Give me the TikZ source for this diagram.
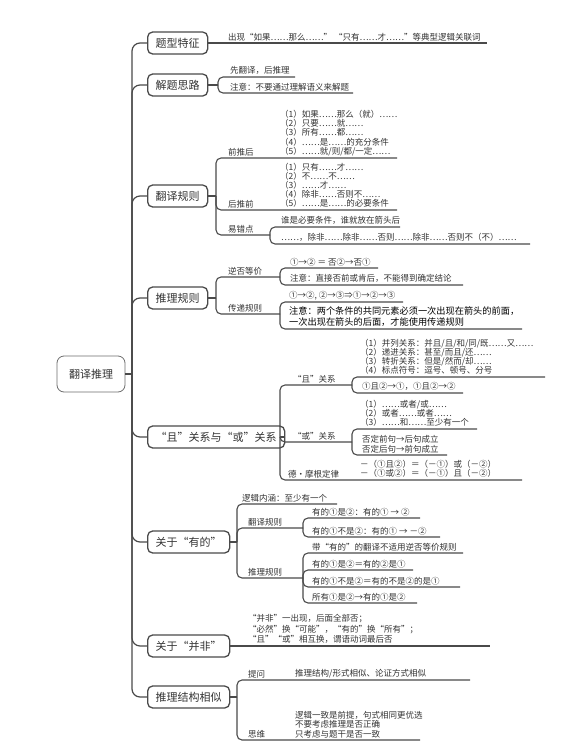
\documentclass[tikz,border=0pt]{standalone}
\usepackage{fontspec}
\setmainfont{Noto Sans CJK SC}
\definecolor{lc}{HTML}{4A4A4A}
\definecolor{tc}{HTML}{333333}
\tikzset{
  ln/.style={draw=lc, line width=1.1pt, rounded corners=5pt},
  trunkln/.style={draw=lc, line width=1.2pt, rounded corners=8pt},
  rootbox/.style={draw=lc!80, line width=0.8pt, rounded corners=7pt, fill=white,
    minimum width=68pt, minimum height=36pt, font=\fontsize{11}{12}\selectfont, text=tc},
  topbox/.style={draw=lc, line width=1.3pt, rounded corners=5pt, fill=white,
    minimum height=22pt, inner xsep=8pt, font=\fontsize{11}{12}\selectfont, text=tc, anchor=west},
  lbl/.style={font=\fontsize{8.5}{9}\selectfont, text=tc, inner sep=0pt, anchor=south west},
  leaf/.style={font=\fontsize{8.5}{9.2}\selectfont, text=tc, inner sep=0pt, anchor=south west, align=left},
  note/.style={font=\fontsize{9.2}{11}\selectfont, text=black, inner sep=0pt, anchor=south west, align=left},
}
\begin{document}
\begin{tikzpicture}[x=1pt,y=-1pt]
\useasboundingbox[fill=white] (0,0) rectangle (578,745);

% root and level-1 boxes
\node[rootbox] (root) at (91,374) {翻译推理};
\coordinate (tr) at (132,374);
\node[topbox] (b1) at (147,43) {题型特征};
\node[topbox] (b2) at (147,85) {解题思路};
\node[topbox] (b3) at (147,196) {翻译规则};
\node[topbox] (b4) at (147,298) {推理规则};
\node[topbox] (b5) at (147,437) {“且”关系与“或”关系};
\node[topbox] (b6) at (147,542) {关于“有的”};
\node[topbox] (b7) at (147,646) {关于“并非”};
\node[topbox] (b8) at (147,697) {推理结构相似};

% trunk
\draw[ln] (root.east) -- (tr);
\foreach \n in {b1,b2,b3,b4,b5,b6,b7,b8} \draw[trunkln] (tr) |- (\n.west);

% 1 题型特征
\draw[ln] (b1.east) -- (487,43);
\node[leaf] (t11) at (228,41) {出现“如果……那么……” “只有……才……”等典型逻辑关联词};

% 2 解题思路
\coordinate (p2) at (218,85);
\draw[ln] (b2.east) -- (p2);
\draw[ln] (p2) |- (295,77);
\draw[ln] (p2) |- (353,93);
\node[leaf] (t21) at (230,75) {先翻译，后推理};
\node[leaf] (t22) at (230,91) {注意：不要通过理解语义来解题};

% 3 翻译规则
\coordinate (p3) at (216,196);
\coordinate (p33) at (270,235);
\draw[ln] (b3.east) -- (p3);
\draw[ln] (p3) |- (397,158);
\draw[ln] (p3) |- (397,210);
\draw[ln] (p3) |- (p33);
\draw[ln] (p33) |- (400,227);
\draw[ln] (p33) |- (530,244);
\node[lbl] (l31) at (228,156) {前推后};
\node[lbl] (l32) at (228,208) {后推前};
\node[lbl] (l33) at (228,233) {易错点};
\node[leaf] (t31) at (280,156) {（1）如果……那么（就）……\\（2）只要……就……\\（3）所有……都……\\（4）……是……的充分条件\\（5）……就/则/都/一定……};
\node[leaf] (t32) at (280,208) {（1）只有……才……\\（2）不……不……\\（3）……才……\\（4）除非……否则不……\\（5）……是……的必要条件};
\node[leaf] (t33) at (281,225) {谁是必要条件，谁就放在箭头后};
\node[leaf] (t34) at (281,242) {……，除非……除非……否则……除非……否则不（不）……};

% 4 推理规则
\coordinate (p4) at (216,298);
\coordinate (p41) at (280,277);
\coordinate (p42) at (280,314);
\draw[ln] (b4.east) -- (p4);
\draw[ln] (p4) |- (p41);
\draw[ln] (p4) |- (p42);
\draw[ln] (p41) |- (378,268);
\draw[ln] (p41) |- (463,285);
\draw[ln] (p42) |- (403,302);
\draw[ln] (p42) |- (522,329);
\node[lbl] (l41) at (228,275) {逆否等价};
\node[lbl] (l42) at (228,312) {传递规则};
\node[leaf] (t41) at (290,266) {①→② ＝ 否②→否①};
\node[leaf] (t42) at (290,283) {注意：直接否前或肯后，不能得到确定结论};
\node[leaf] (t43) at (289,300) {①→②, ②→③⇒①→②→③};
\node[note] (t44) at (289,327) {注意：两个条件的共同元素必须一次出现在箭头的前面，\\一次出现在箭头的后面，才能使用传递规则};

% 5 且/或
\coordinate (p5) at (280,437);
\coordinate (p51) at (352,385);
\coordinate (p52) at (352,442);
\draw[ln] (b5.east) -- (p5);
\draw[ln] (p5) |- (p51);
\draw[ln] (p5) |- (p52);
\draw[ln] (p5) |- (522,480);
\draw[ln] (p51) |- (545,377);
\draw[ln] (p51) |- (463,393);
\draw[ln] (p52) |- (477,429);
\draw[ln] (p52) |- (447,455);
\node[lbl] (l51) at (293,383) {“且”关系};
\node[lbl] (l52) at (293,440) {“或”关系};
\node[lbl] (l53) at (288,478) {德·摩根定律};
\node[leaf] (t51) at (360,375) {（1）并列关系：并且/且/和/同/既……又……\\（2）递进关系：甚至/而且/还……\\（3）转折关系：但是/然而/却……\\（4）标点符号：逗号、顿号、分号};
\node[leaf] (t52) at (362,391) {①且②→①，①且②→②};
\node[leaf] (t53) at (360,427) {（1）……或者/或……\\（2）或者……或者……\\（3）……和……至少有一个};
\node[leaf] (t54) at (362,453) {否定前句→后句成立\\否定后句→前句成立};
\node[leaf] (t55) at (360,478) {－（①且②）＝（－①）或（－②）\\－（①或②）＝（－①）且（－②）};

% 6 关于“有的”
\coordinate (p6) at (237,542);
\coordinate (p61) at (303,528);
\coordinate (p62) at (303,578);
\draw[ln] (b6.east) -- (p6);
\draw[ln] (p6) |- (337,504);
\draw[ln] (p6) |- (p61);
\draw[ln] (p6) |- (p62);
\draw[ln] (p61) |- (420,518);
\draw[ln] (p61) |- (440,537);
\draw[ln] (p62) |- (463,553);
\draw[ln] (p62) |- (413,570);
\draw[ln] (p62) |- (460,587);
\draw[ln] (p62) |- (417,603);
\node[leaf] (t61) at (242,502) {逻辑内涵：至少有一个};
\node[lbl] (l61) at (248,526) {翻译规则};
\node[lbl] (l62) at (248,576) {推理规则};
\node[leaf] (t62) at (312,516) {有的①是②：有的① → ②};
\node[leaf] (t63) at (312,535) {有的①不是②：有的① → －②};
\node[leaf] (t64) at (312,551) {带“有的”的翻译不适用逆否等价规则};
\node[leaf] (t65) at (312,568) {有的①是②＝有的②是①};
\node[leaf] (t66) at (312,585) {有的①不是②＝有的不是②的是①};
\node[leaf] (t67) at (312,601) {所有①是②→有的①是②};

% 7 关于“并非”
\draw[ln] (b7.east) -- (490,646);
\node[leaf, font=\fontsize{8.5}{10.5}\selectfont] (t71) at (248,644) {“并非”一出现，后面全部否；\\“必然”换“可能”，“有的”换“所有”；\\“且”“或”相互换，谓语动词最后否};

% 8 推理结构相似
\coordinate (p8) at (237,697);
\draw[ln] (b8.east) -- (p8);
\draw[ln] (p8) |- (470,680);
\draw[ln] (p8) |- (420,740);
\node[lbl] (l81) at (248,678) {提问};
\node[lbl] (l82) at (248,738) {思维};
\node[leaf] (t81) at (295,678) {推理结构/形式相似、论证方式相似};
\node[leaf] (t82) at (295,738) {逻辑一致是前提，句式相同更优选\\不要考虑推理是否正确\\只考虑与题干是否一致};
\end{tikzpicture}
\end{document}
